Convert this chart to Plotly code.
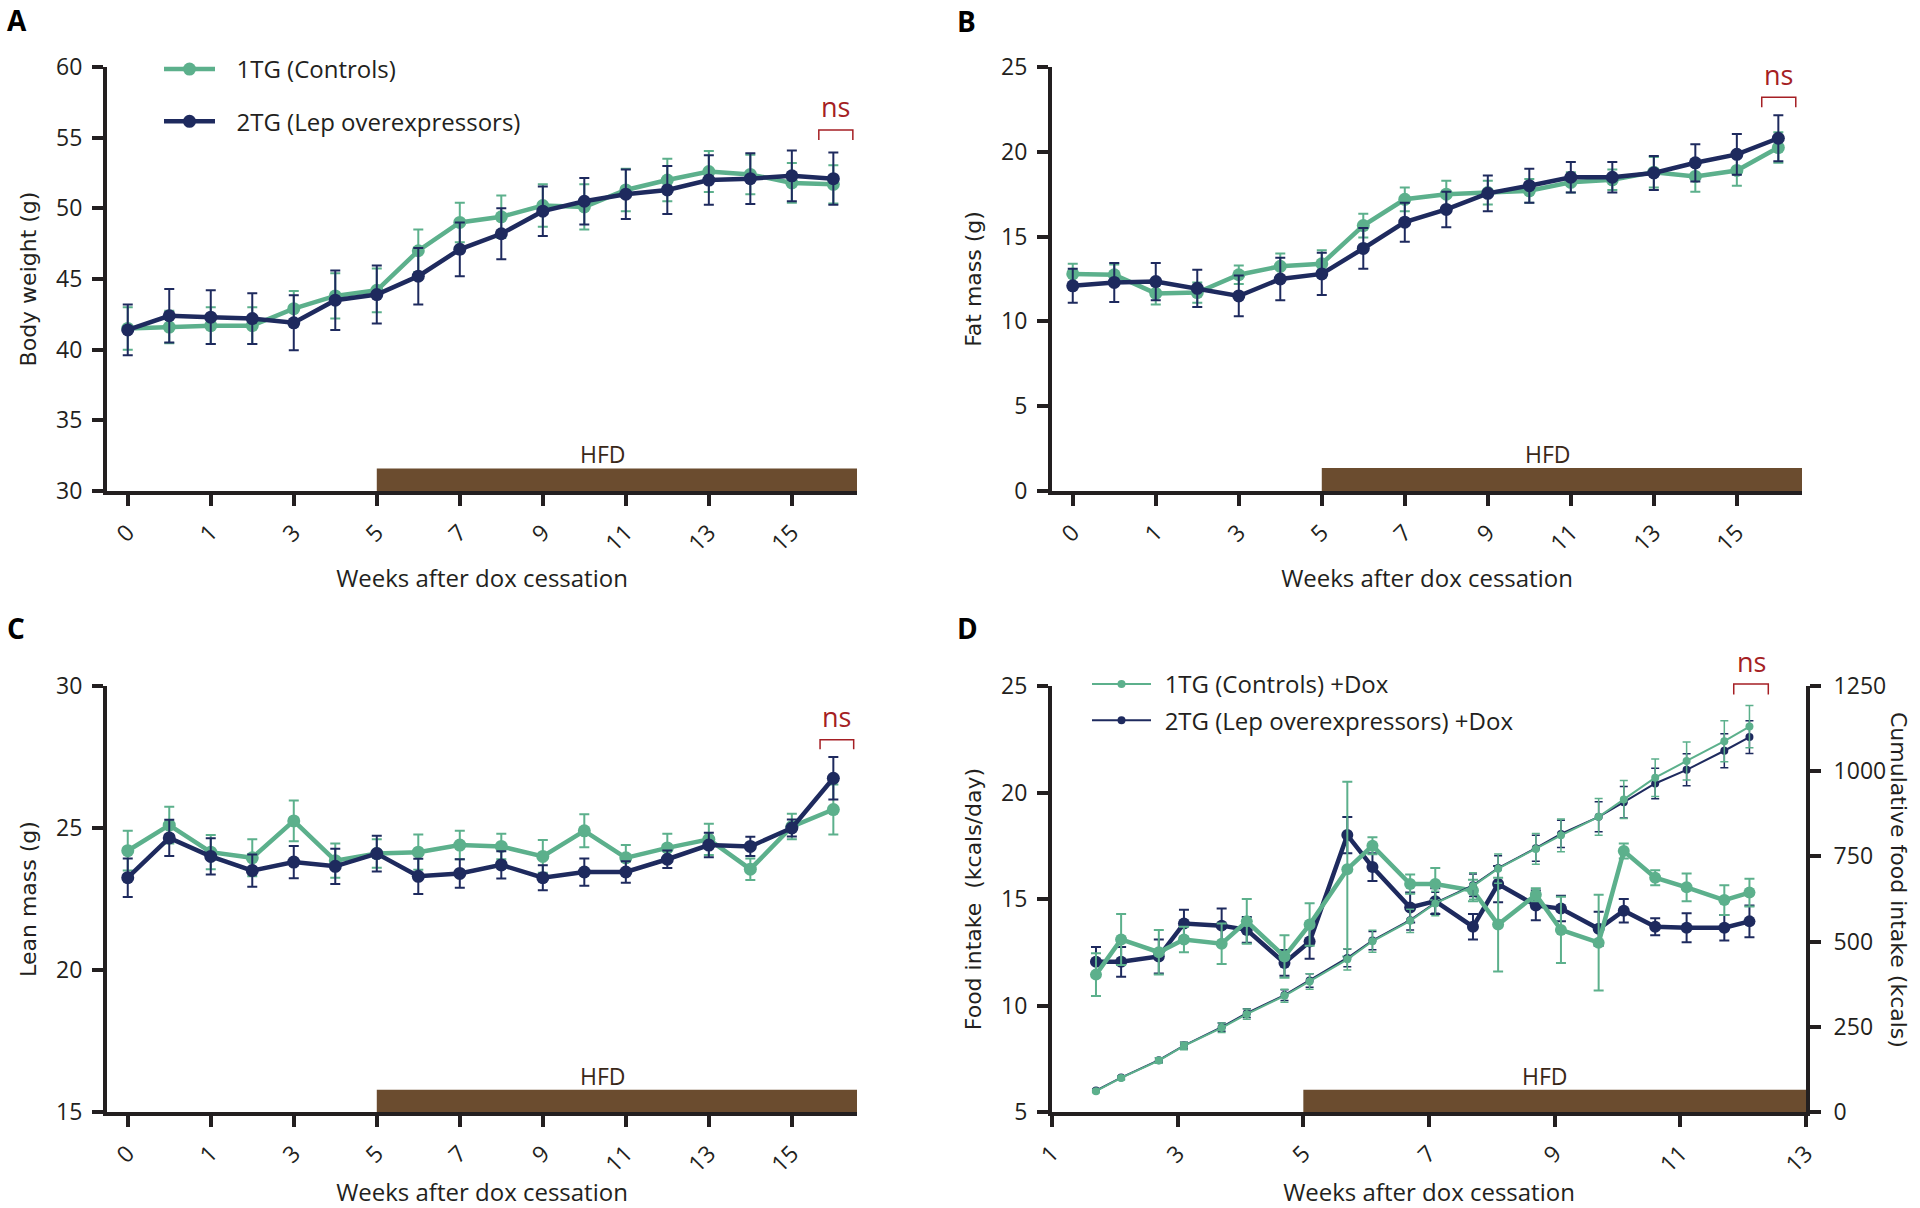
import plotly.graph_objects as go

W, H = 1920, 1208

# ---------------- data ----------------
# Panels A-C: 18 time points, tick labels at every other point
week_labels = ['0', '1', '3', '5', '7', '9', '11', '13', '15']
x_idx = list(range(18))

bw_ctrl = [41.5, 41.6, 41.7, 41.7, 42.9, 43.8, 44.2, 47.0, 49.0, 49.4, 50.2, 50.1, 51.3, 52.0, 52.6, 52.4, 51.8, 51.7]
bw_ctrl_err = [1.5, 1.15, 1.3, 1.3, 1.25, 1.6, 1.55, 1.5, 1.4, 1.5, 1.5, 1.6, 1.5, 1.5, 1.45, 1.4, 1.4, 1.35]
bw_lep = [41.4, 42.4, 42.3, 42.2, 41.9, 43.5, 43.9, 45.2, 47.1, 48.2, 49.8, 50.5, 51.0, 51.3, 52.0, 52.1, 52.3, 52.1]
bw_lep_err = [1.8, 1.9, 1.9, 1.8, 1.95, 2.1, 2.05, 2.0, 1.9, 1.8, 1.75, 1.65, 1.75, 1.7, 1.75, 1.8, 1.8, 1.85]

fat_ctrl = [12.8, 12.75, 11.65, 11.7, 12.75, 13.25, 13.4, 15.65, 17.2, 17.5, 17.6, 17.7, 18.2, 18.35, 18.8, 18.55, 18.9, 20.25]
fat_ctrl_err = [0.6, 0.6, 0.65, 0.6, 0.55, 0.75, 0.8, 0.7, 0.7, 0.8, 0.7, 0.7, 0.6, 0.6, 0.9, 0.9, 0.9, 0.9]
fat_lep = [12.1, 12.3, 12.35, 11.95, 11.5, 12.5, 12.8, 14.3, 15.85, 16.6, 17.55, 18.0, 18.5, 18.5, 18.75, 19.35, 19.85, 20.8]
fat_lep_err = [1.0, 1.15, 1.1, 1.1, 1.2, 1.25, 1.25, 1.2, 1.15, 1.05, 1.05, 1.0, 0.9, 0.9, 1.0, 1.1, 1.2, 1.35]

lean_ctrl = [24.2, 25.1, 24.15, 23.95, 25.25, 23.85, 24.1, 24.15, 24.4, 24.35, 24.0, 24.9, 23.95, 24.3, 24.6, 23.55, 25.05, 25.65]
lean_ctrl_err = [0.7, 0.65, 0.6, 0.65, 0.72, 0.6, 0.5, 0.62, 0.5, 0.45, 0.58, 0.58, 0.45, 0.5, 0.55, 0.38, 0.45, 0.88]
lean_lep = [23.25, 24.65, 24.0, 23.5, 23.8, 23.65, 24.1, 23.3, 23.4, 23.7, 23.25, 23.45, 23.45, 23.9, 24.4, 24.35, 25.0, 26.75]
lean_lep_err = [0.68, 0.64, 0.64, 0.57, 0.57, 0.62, 0.63, 0.62, 0.5, 0.48, 0.44, 0.48, 0.38, 0.31, 0.43, 0.34, 0.3, 0.75]

# Panel D: food intake (left axis) and cumulative intake (right axis)
food_weeks = [1.7, 2.1, 2.7, 3.1, 3.7, 4.1, 4.7, 5.1, 5.7, 6.1, 6.7, 7.1, 7.7, 8.1, 8.7, 9.1, 9.7, 10.1, 10.6, 11.1, 11.7, 12.1]
food_ctrl = [11.45, 13.1, 12.5, 13.1, 12.9, 13.95, 12.3, 13.8, 16.4, 17.5, 15.7, 15.7, 15.4, 13.8, 15.2, 13.55, 12.95, 17.25, 16.0, 15.55, 14.95, 15.3]
food_ctrl_err = [1.0, 1.2, 1.05, 0.6, 0.95, 1.05, 1.0, 1.0, 4.1, 0.4, 0.45, 0.75, 0.5, 2.2, 0.3, 1.55, 2.25, 0.35, 0.35, 0.65, 0.7, 0.65]
food_lep = [12.05, 12.05, 12.3, 13.85, 13.75, 13.55, 12.0, 13.0, 18.0, 16.5, 14.6, 14.9, 13.7, 15.7, 14.7, 14.55, 13.6, 14.45, 13.7, 13.65, 13.65, 13.95]
food_lep_err = [0.7, 0.7, 0.8, 0.65, 0.8, 0.6, 0.6, 0.8, 0.85, 0.65, 0.7, 0.6, 0.6, 0.85, 0.7, 0.6, 0.8, 0.55, 0.4, 0.68, 0.6, 0.75]
cum_ctrl = [61, 100, 151, 194, 247, 287, 341, 383, 448, 501, 561, 612, 663, 714, 772, 812, 866, 917, 981, 1030, 1088, 1131]
cum_ctrl_err = [4, 6, 8, 11, 14, 15, 19, 23, 31, 32, 34, 36, 39, 43, 45, 48, 54, 56, 55, 56, 60, 62]
cum_lep = [63, 101, 152, 195, 249, 290, 343, 386, 452, 503, 563, 614, 665, 716, 774, 816, 866, 909, 964, 1004, 1060, 1100]
cum_lep_err = [4, 5, 7, 10, 12, 13, 16, 20, 26, 27, 29, 31, 33, 36, 38, 40, 44, 46, 45, 47, 50, 48]

d_ticks = [1, 3, 5, 7, 9, 11, 13]

# HFD period (starts at week 5)
hfd_start_idx = 6     # index of the "5" tick in panels A-C
hfd_start_week = 5    # panel D

# ---------------- style ----------------
GREEN = '#5cb08c'
NAVY = '#1e2a5e'
BROWN = '#6b4c2f'
HFD_TXT = '#3a2819'
RED = '#a51f24'
INK = '#231f20'
TICK_FONT = dict(family='Open Sans', size=23, color=INK)
YT_FONT = dict(family='DejaVu Sans', size=22, color=INK)
XT_FONT = dict(family='Open Sans', size=24, color=INK)
PAD_A = '\u00a0\u00a0\u2009'
PAD_D = '\u00a0\u200a'


def px_x(p):
    return p / W


def px_y(p):
    return 1 - p / H


dom_x_left = [px_x(107), px_x(857)]
dom_x_right = [px_x(1052), px_x(1802)]
dom_x_d = [px_x(1052), px_x(1806)]
dom_y_top = [px_y(491), px_y(67)]
dom_y_bot = [px_y(1112), px_y(686)]
cat_range = [-0.5, 17.57]
rng_a, rng_b, rng_c, rng_d, rng_dx = [30, 60], [0, 25], [15, 30], [5, 25], [1, 13]

fig = go.Figure()


def add_pair(xa, ya, y_ctrl, e_ctrl, y_lep, e_lep, show):
    fig.add_trace(go.Scatter(
        x=x_idx, y=y_ctrl, mode='lines+markers', name=PAD_A + '1TG (Controls)',
        line=dict(color=GREEN, width=4.5), marker=dict(size=13, color=GREEN),
        error_y=dict(type='data', array=e_ctrl, color=GREEN, thickness=2, width=5),
        xaxis=xa, yaxis=ya, showlegend=show, legend='legend', legendgroup='ctrl',
        legendrank=1))
    fig.add_trace(go.Scatter(
        x=x_idx, y=y_lep, mode='lines+markers', name=PAD_A + '2TG (Lep overexpressors)',
        line=dict(color=NAVY, width=4.5), marker=dict(size=13, color=NAVY),
        error_y=dict(type='data', array=e_lep, color=NAVY, thickness=2, width=5),
        xaxis=xa, yaxis=ya, showlegend=show, legend='legend', legendgroup='lep',
        legendrank=2))


add_pair('x', 'y', bw_ctrl, bw_ctrl_err, bw_lep, bw_lep_err, True)
add_pair('x2', 'y2', fat_ctrl, fat_ctrl_err, fat_lep, fat_lep_err, False)
add_pair('x3', 'y3', lean_ctrl, lean_ctrl_err, lean_lep, lean_lep_err, False)

# Panel D food intake (thick)
fig.add_trace(go.Scatter(
    x=food_weeks, y=food_lep, mode='lines+markers', name='2TG food intake',
    line=dict(color=NAVY, width=4.5), marker=dict(size=12, color=NAVY),
    error_y=dict(type='data', array=food_lep_err, color=NAVY, thickness=2, width=5),
    xaxis='x4', yaxis='y4', showlegend=False))
fig.add_trace(go.Scatter(
    x=food_weeks, y=food_ctrl, mode='lines+markers', name='1TG food intake',
    line=dict(color=GREEN, width=4.5), marker=dict(size=12, color=GREEN),
    error_y=dict(type='data', array=food_ctrl_err, color=GREEN, thickness=2, width=5),
    xaxis='x4', yaxis='y4', showlegend=False))
# Panel D cumulative intake (thin, right axis)
fig.add_trace(go.Scatter(
    x=food_weeks, y=cum_lep, mode='lines+markers', name=PAD_D + '2TG (Lep overexpressors) +Dox',
    line=dict(color=NAVY, width=2), marker=dict(size=8, color=NAVY),
    error_y=dict(type='data', array=cum_lep_err, color=NAVY, thickness=1.5, width=4),
    xaxis='x4', yaxis='y5', legend='legend2', legendgroup='dlep', legendrank=2))
fig.add_trace(go.Scatter(
    x=food_weeks, y=cum_ctrl, mode='lines+markers', name=PAD_D + '1TG (Controls) +Dox',
    line=dict(color=GREEN, width=2), marker=dict(size=8, color=GREEN),
    error_y=dict(type='data', array=cum_ctrl_err, color=GREEN, thickness=1.5, width=4),
    xaxis='x4', yaxis='y5', legend='legend2', legendgroup='dctrl', legendrank=1))

axis_common = dict(showline=True, linewidth=4, linecolor=INK, ticks='outside', ticklen=11,
                   tickwidth=3.5, tickcolor=INK, showgrid=False, zeroline=False,
                   tickfont=TICK_FONT, automargin=False)


def cat_xaxis(domain, anchor, standoff):
    return dict(axis_common, domain=domain, anchor=anchor, range=cat_range,
                tickmode='array', tickvals=x_idx[::2], ticktext=week_labels, tickangle=-45,
                ticklabelstandoff=4,
                title=dict(text='Weeks after dox cessation', font=XT_FONT, standoff=standoff))


def yaxis(domain, anchor, rng, title):
    return dict(axis_common, domain=domain, anchor=anchor, range=rng, dtick=5, tick0=0,
                ticklabelstandoff=5,
                title=dict(text=title, font=YT_FONT, standoff=14))


fig.update_layout(
    width=W, height=H, margin=dict(l=0, r=0, t=0, b=0),
    template='none', plot_bgcolor='white', paper_bgcolor='white',
    xaxis=cat_xaxis(dom_x_left, 'y', 14),
    yaxis=yaxis(dom_y_top, 'x', rng_a, 'Body weight (g)'),
    xaxis2=cat_xaxis(dom_x_right, 'y2', 14),
    yaxis2=yaxis(dom_y_top, 'x2', rng_b, 'Fat mass (g)'),
    xaxis3=cat_xaxis(dom_x_left, 'y3', 5),
    yaxis3=yaxis(dom_y_bot, 'x3', rng_c, 'Lean mass (g)'),
    xaxis4=dict(axis_common, domain=dom_x_d, anchor='y4', range=rng_dx,
                tickmode='array', tickvals=d_ticks, tickangle=-45, ticklabelstandoff=4,
                title=dict(text='Weeks after dox cessation', font=XT_FONT, standoff=11)),
    yaxis4=yaxis(dom_y_bot, 'x4', rng_d, 'Food intake  (kcals/day)'),
    yaxis5=dict(axis_common, domain=dom_y_bot, anchor='x4', overlaying='y4', side='right',
                range=[0, 1250], dtick=250, tick0=0, ticklabelstandoff=8),
    legend=dict(x=px_x(159), y=px_y(47), xanchor='left', yanchor='top',
                bgcolor='rgba(0,0,0,0)', font=dict(family='Open Sans', size=24, color=INK),
                itemwidth=51, tracegroupgap=18, traceorder='grouped'),
    legend2=dict(x=px_x(1087), y=px_y(662), xanchor='left', yanchor='top',
                 bgcolor='rgba(0,0,0,0)', font=dict(family='Open Sans', size=24, color=INK),
                 itemwidth=59, tracegroupgap=2, traceorder='grouped'),
)

# HFD bars and labels
hfd_specs = [
    ('x', 'y', hfd_start_idx, cat_range[1], 30, 31.6, 11.45),
    ('x2', 'y2', hfd_start_idx, cat_range[1], 0, 1.35, 11.45),
    ('x3', 'y3', hfd_start_idx, cat_range[1], 15, 15.78, 11.45),
    ('x4', 'y4', hfd_start_week, rng_dx[1], 5, 6.05, 8.85),
]
for xa, ya, x0, x1, y0, y1, xt in hfd_specs:
    fig.add_shape(type='rect', xref=xa, yref=ya, x0=x0, x1=x1, y0=y0, y1=y1,
                  fillcolor=BROWN, line=dict(width=0), layer='below')
    fig.add_annotation(xref=xa, yref=ya, x=xt, y=y1, text='HFD', showarrow=False,
                       xanchor='center', yanchor='bottom', yshift=-4,
                       font=dict(family='Open Sans', size=23, color=HFD_TXT))


def frac(v, rng):
    return (v - rng[0]) / (rng[1] - rng[0])


# ns brackets (positions given in axis units, drawn in axis-domain coordinates)
ns_specs = [
    ('x', 'y', cat_range, rng_a, 16.65, 17.47, 55.54, 54.83, 57.2),
    ('x2', 'y2', cat_range, rng_b, 16.6, 17.42, 23.21, 22.63, 24.55),
    ('x3', 'y3', cat_range, rng_c, 16.68, 17.49, 28.11, 27.77, 28.92),
    ('x4', 'y4', rng_dx, rng_d, 11.85, 12.4, 25.09, 24.6, 26.13),
]
for xa, ya, rx, ry, xl, xr, ytop, ybot, ytxt in ns_specs:
    fl, fr = frac(xl, rx), frac(xr, rx)
    ft, fb = frac(ytop, ry), frac(ybot, ry)
    fig.add_shape(type='path', xref=xa + ' domain', yref=ya + ' domain',
                  path=f'M {fl},{fb} L {fl},{ft} L {fr},{ft} L {fr},{fb}',
                  line=dict(color=RED, width=1.5))
    fig.add_annotation(xref=xa + ' domain', yref=ya + ' domain', x=(fl + fr) / 2, y=frac(ytxt, ry),
                       text='ns', showarrow=False, xanchor='center', yanchor='middle',
                       font=dict(family='Open Sans', size=27, color=RED))

# Right axis title for D (reads top to bottom)
fig.add_annotation(xref='paper', yref='paper', x=px_x(1898), y=px_y(880),
                   text='Cumulative food intake (kcals)', textangle=90, showarrow=False,
                   xanchor='center', yanchor='middle', font=YT_FONT)

# Panel letters
for letter, px, py in [('A', 5, 20), ('B', 955, 21), ('C', 5, 628), ('D', 955, 628)]:
    fig.add_annotation(xref='paper', yref='paper', x=px_x(px), y=px_y(py), text=letter,
                       showarrow=False, xanchor='left', yanchor='middle',
                       font=dict(family='Open Sans', size=28, color='black', weight=700))

fig.write_html('out.html', config={'displayModeBar': False},
               post_script="document.body.style.margin='0px';")
